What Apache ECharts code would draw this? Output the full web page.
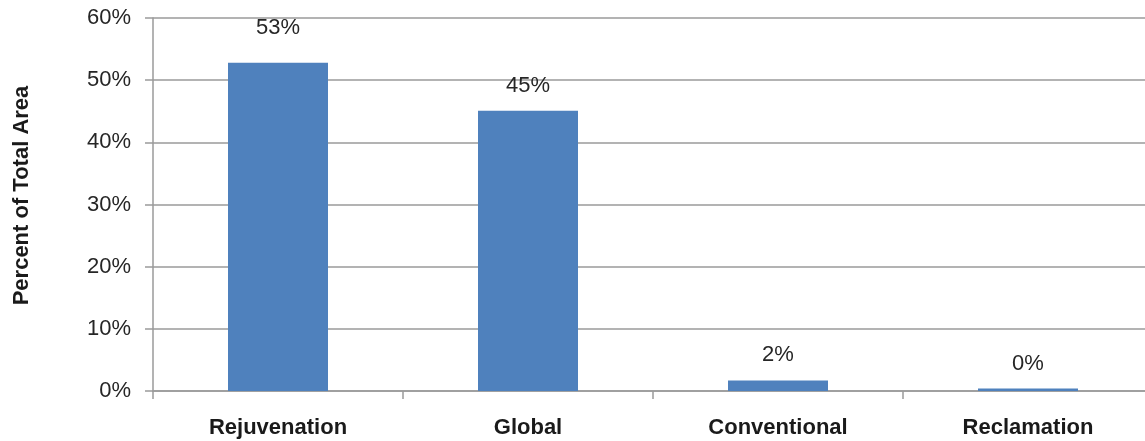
<!DOCTYPE html>
<html>
<head>
<meta charset="utf-8">
<script src="https://cdn.jsdelivr.net/npm/echarts@6/dist/echarts.min.js"></script>
<style>
html,body{margin:0;padding:0;background:#fff;}
#chart{width:1145px;height:441px;}
</style>
</head>
<body>
<div id="chart"></div>
<script>
const categories = ['Rejuvenation', 'Global', 'Conventional', 'Reclamation'];
const values = [52.8, 45.1, 1.7, 0.4];
const valueLabels = ['53%', '45%', '2%', '0%'];
const yTicks = [0, 10, 20, 30, 40, 50, 60];

const chart = echarts.init(document.getElementById('chart'), null, {renderer: 'canvas'});
const font = 'Liberation Sans, Arial, sans-serif';
const gridColor = '#9a9a9a';

const seriesData = values.map((v, i) => {
  const item = {value: v, label: {formatter: valueLabels[i]}};
  if (i === 0) item.label.distance = 24;
  return item;
});

chart.setOption({
  animation: false,
  backgroundColor: '#ffffff',
  grid: {left: 153, width: 1000, top: 18, bottom: 50, containLabel: false, outerBoundsMode: 'none'},
  xAxis: {
    type: 'category',
    data: categories,
    boundaryGap: true,
    axisLine: {show: true, lineStyle: {color: gridColor, width: 1.5}},
    axisTick: {show: true, alignWithLabel: false, length: 8, lineStyle: {color: gridColor, width: 1.5}},
    axisLabel: {margin: 26, color: '#1a1a1a', fontFamily: font, fontSize: 22, fontWeight: 'bold'},
    splitLine: {show: false}
  },
  yAxis: {
    type: 'value',
    min: yTicks[0],
    max: yTicks[yTicks.length - 1],
    interval: 10,
    name: 'Percent of Total Area',
    nameLocation: 'middle',
    nameGap: 120,
    nameRotate: 90,
    nameTextStyle: {color: '#1a1a1a', fontFamily: font, fontSize: 22, fontWeight: 'bold', padding: [0, 0, 0, 18]},
    axisLine: {show: true, lineStyle: {color: gridColor, width: 1.5}},
    axisTick: {show: true, length: 8, lineStyle: {color: gridColor, width: 1.5}},
    axisLabel: {margin: 22, color: '#262626', fontFamily: font, fontSize: 22, formatter: '{value}%'},
    splitLine: {show: true, lineStyle: {color: gridColor, width: 1.5}}
  },
  series: [{
    type: 'bar',
    data: seriesData,
    barWidth: '40%',
    itemStyle: {color: '#4F81BD'},
    label: {show: true, position: 'top', distance: 14, color: '#262626', fontFamily: font, fontSize: 22}
  }]
});
</script>
</body>
</html>
